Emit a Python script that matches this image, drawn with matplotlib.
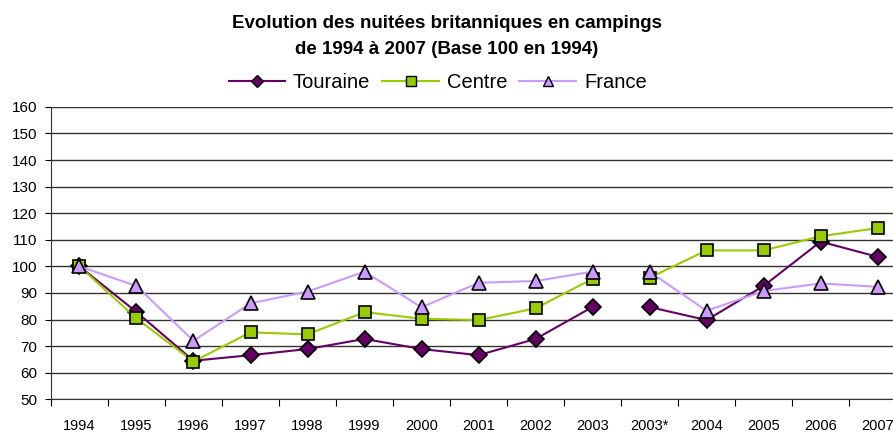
import numpy as np
import matplotlib.pyplot as plt

years = ["1994", "1995", "1996", "1997", "1998", "1999", "2000", "2001",
         "2002", "2003", "2003*", "2004", "2005", "2006", "2007"]
touraine = [100, 82.8, 64.5, 66.6, 68.9, 72.7, 68.9, 66.6, 72.7, 84.7, 84.7, 79.8, 92.6, 109.3, 103.6]
centre = [100, 80.4, 64.2, 75.2, 74.4, 82.8, 80.3, 79.8, 84.2, 95.3, 95.7, 106, 106, 111.3, 114.4]
france = [100, 92.6, 72, 86.1, 90.5, 98, 84.6, 93.8, 94.5, 98, 98, 83.3, 90.7, 93.6, 92.3]

plt.rcParams['font.family'] = ['Liberation Sans', 'DejaVu Sans']

fig = plt.figure(figsize=(8.93, 4.32), dpi=100)
ax = fig.add_axes([0.0571, 0.0757, 0.9575, 0.677])

x = np.arange(len(years))
split = years.index("2003*")

series = [
    ("Touraine", touraine, "#660066", "D", 8.5),
    ("Centre", centre, "#99CC00", "s", 9),
    ("France", france, "#CC99FF", "^", 10),
]
for name, vals, col, mk, ms in series:
    vals = np.array(vals, dtype=float)
    # no line between 2003 and 2003*
    for sl in (slice(0, split), slice(split, None)):
        ax.plot(x[sl], vals[sl], color=col, lw=1.5, marker=mk, ms=ms,
                markerfacecolor=col, markeredgecolor="black", markeredgewidth=1.2)

handles = [plt.Line2D([], [], color=col, lw=1.5, marker=mk, ms=ms * 0.75,
                      markerfacecolor=col, markeredgecolor="black", markeredgewidth=1.0,
                      label=name)
           for name, vals, col, mk, ms in series]

ax.set_xlim(-0.5, len(years) - 0.5)
ax.set_ylim(50, 160)
ax.set_yticks(np.arange(50, 161, 10))
ax.tick_params(axis="y", labelsize=11, length=4, direction="out", pad=6)
ax.set_xticks(np.arange(-0.5, len(years), 1))
ax.set_xticklabels([])
ax.set_xticks(x, minor=True)
ax.set_xticklabels(years, minor=True)
ax.tick_params(axis="x", which="major", length=5, direction="out")
ax.tick_params(axis="x", which="minor", length=0, labelsize=10.5, pad=14)

ax.grid(axis="y", color="#333333", lw=1.0)
ax.set_axisbelow(True)
for s in ("top", "right"):
    ax.spines[s].set_visible(False)
ax.spines["left"].set_color("#333333")
ax.spines["bottom"].set_color("#333333")

fig.text(0.5, 0.915, "Evolution des nuitées britanniques en campings\nde 1994 à 2007 (Base 100 en 1994)",
         ha="center", va="center", fontsize=13.5, fontweight="bold", linespacing=1.7)
fig.legend(handles=handles, loc="center", bbox_to_anchor=(0.49, 0.81), ncol=3,
           frameon=False, fontsize=14.5, handlelength=2.8, columnspacing=0.6,
           handletextpad=0.4, borderaxespad=0)

fig.savefig("out.png", dpi=100)
